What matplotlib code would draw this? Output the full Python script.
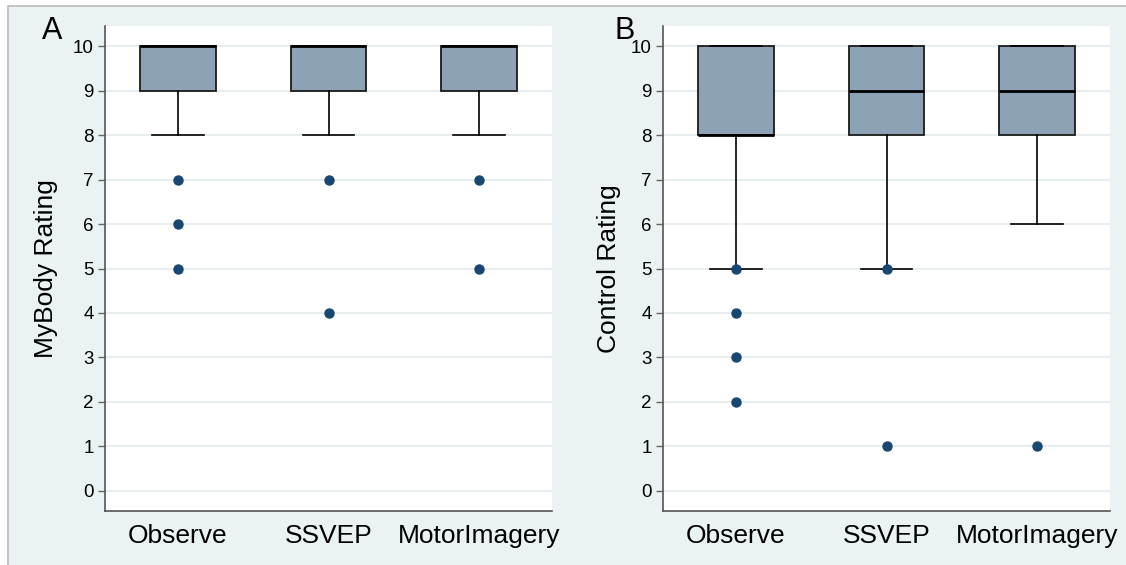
import matplotlib.pyplot as plt
from matplotlib.patches import Rectangle

plt.rcParams['font.family'] = ['Liberation Sans', 'DejaVu Sans']

conditions = ['Observe', 'SSVEP', 'MotorImagery']

# panel A: MyBody rating
mybody_q1 = [9, 9, 9]
mybody_med = [10, 10, 10]
mybody_q3 = [10, 10, 10]
mybody_lo = [8, 8, 8]
mybody_hi = [10, 10, 10]
mybody_out = [[7, 6, 5], [7, 4], [7, 5]]

# panel B: Control rating
control_q1 = [8, 8, 8]
control_med = [8, 9, 9]
control_q3 = [10, 10, 10]
control_lo = [5, 5, 6]
control_hi = [10, 10, 10]
control_out = [[5, 4, 3, 2], [5, 1], [1]]

yticks = list(range(0, 11))

BG = '#EAF2F3'
BOX = '#8DA2B5'
NAVY = '#1A476F'


def make_stats(q1, med, q3, lo, hi, out):
    stats = []
    for i, name in enumerate(conditions):
        stats.append(dict(label=name, q1=q1[i], med=med[i], q3=q3[i],
                          whislo=lo[i], whishi=hi[i], fliers=out[i]))
    return stats


def draw_panel(ax, stats, ylabel, label_x):
    ax.set_facecolor('white')
    ax.yaxis.grid(True, color='#E4EDEF', linewidth=1.3, zorder=0)
    ax.set_axisbelow(True)
    ax.bxp(stats, positions=[1, 2, 3], widths=0.5, patch_artist=True,
           boxprops=dict(facecolor=BOX, edgecolor='#1a1a1a', linewidth=1.3),
           medianprops=dict(color='black', linewidth=2.0),
           whiskerprops=dict(color='black', linewidth=1.2),
           capprops=dict(color='black', linewidth=1.2),
           capwidths=0.34,
           flierprops=dict(marker='o', markerfacecolor=NAVY, markeredgecolor=NAVY,
                           markersize=6.5, linestyle='none', zorder=5))
    ax.set_xlim(0.515, 3.485)
    ax.set_ylim(-0.45, 10.45)
    ax.set_yticks(yticks)
    ax.set_yticklabels([str(t) for t in yticks])
    ax.tick_params(axis='y', length=5, width=1, color='#666666', labelsize=13.5, pad=3)
    ax.tick_params(axis='x', length=0, labelsize=19, pad=9.5)
    for s in ['top', 'right']:
        ax.spines[s].set_visible(False)
    for s in ['left', 'bottom']:
        ax.spines[s].set_color('#555555')
        ax.spines[s].set_linewidth(1.2)
    ax.set_ylabel(ylabel, fontsize=19)
    ax.yaxis.set_label_coords(label_x, 0.5)


fig = plt.figure(figsize=(11.26, 5.65), dpi=100)
fig.patch.set_facecolor('white')
fig.patches.append(Rectangle((8 / 1126, -0.05), 1.1, 1.05 - 6 / 565,
                             transform=fig.transFigure, facecolor=BG,
                             edgecolor='#BBBBBB', linewidth=1.2, zorder=-10))

ax_a = fig.add_axes([105 / 1126, 1 - 511 / 565, 447 / 1126, 485 / 565])
ax_b = fig.add_axes([663 / 1126, 1 - 511 / 565, 447 / 1126, 485 / 565])

draw_panel(ax_a, make_stats(mybody_q1, mybody_med, mybody_q3, mybody_lo, mybody_hi, mybody_out),
           'MyBody Rating', -0.105)
draw_panel(ax_b, make_stats(control_q1, control_med, control_q3, control_lo, control_hi, control_out),
           'Control Rating', -0.095)

fig.text(52 / 1126, 1 - 31 / 565, 'A', fontsize=22, ha='center', va='center')
fig.text(625 / 1126, 1 - 31 / 565, 'B', fontsize=22, ha='center', va='center')

fig.savefig('out.png', dpi=100, facecolor=fig.get_facecolor())
